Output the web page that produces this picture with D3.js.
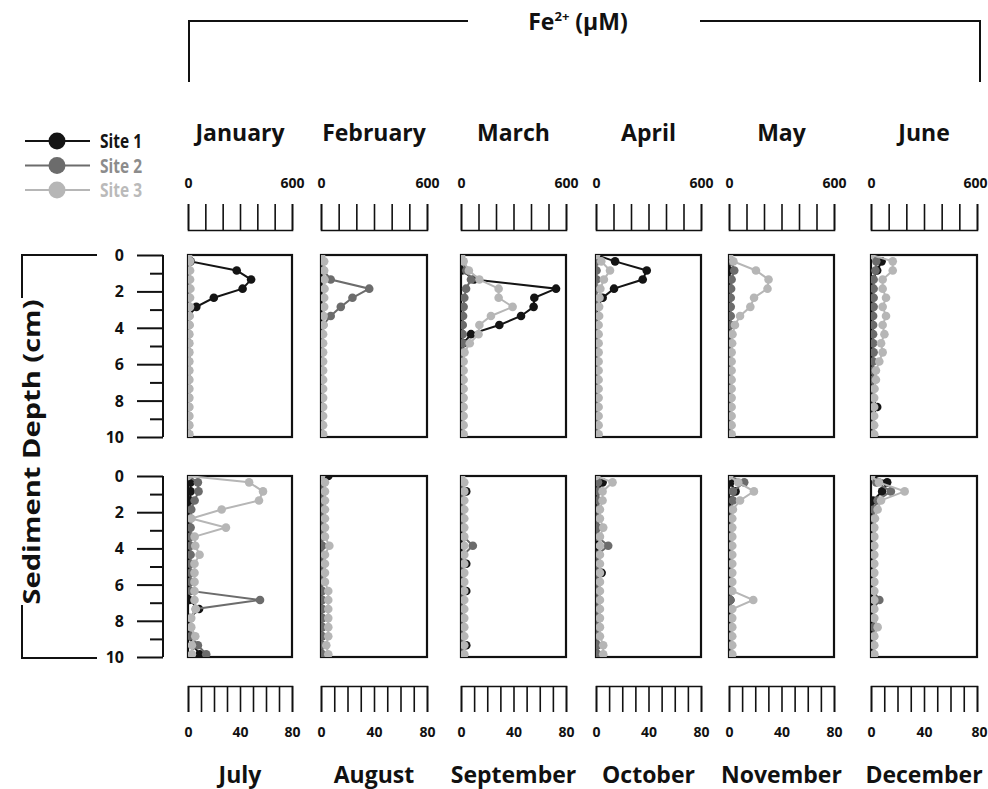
<!DOCTYPE html>
<html>
<head>
<meta charset="utf-8">
<script src="https://cdn.jsdelivr.net/npm/d3@7"></script>
<style>
  body { margin: 0; background: #fff; }
  text { font-family: 'Open Sans', sans-serif; font-weight: 700; }
</style>
</head>
<body>
<svg id="chart" width="988" height="789"></svg>
<script>
// ---- data -------------------------------------------------------------
const topMonths = ["January", "February", "March", "April", "May", "June"];
const bottomMonths = ["July", "August", "September", "October", "November", "December"];
const sites = ["Site 1", "Site 2", "Site 3"];

// sampling depths (cm)
const depths = [0, 0.35, 0.85, 1.35, 1.85, 2.35, 2.85, 3.35, 3.85, 4.35, 4.85,
                5.35, 5.85, 6.35, 6.85, 7.35, 7.85, 8.35, 8.85, 9.35, 9.85];
const depthTicks = [0, 1, 2, 3, 4, 5, 6, 7, 8, 9, 10];
const depthLabels = [0, 2, 4, 6, 8, 10];

const topTicks = [0, 100, 200, 300, 400, 500, 600];
const topLabels = [0, 600];
const bottomTicks = [0, 10, 20, 30, 40, 50, 60, 70, 80];
const bottomLabels = [0, 40, 80];

// Fe2+ (µM), one row per month (Jan..Dec), one value per depth
const site1 = [
  [0, 15, 281, 364, 315, 149, 48, 3, 3, 3, 3, 3, 3, 3, 3, 3, 3, 3, 3, 3, 3],
  [0, 3, 3, 3, 3, 3, 3, 3, 3, 4, 5, 5, 5, 4, 3, 3, 3, 3, 3, 3, 3],
  [0, 5, 5, 75, 543, 419, 415, 343, 219, 57, 15, 5, 5, 5, 5, 5, 5, 5, 5, 5, 5],
  [0, 109, 290, 267, 103, 38, 10, 3, 3, 3, 3, 3, 3, 3, 3, 3, 3, 3, 3, 3, 3],
  [0, 3, 3, 3, 3, 3, 3, 3, 3, 3, 3, 3, 3, 3, 3, 3, 3, 3, 3, 3, 3],
  [0, 60, 35, 10, 8, 6, 6, 6, 6, 6, 6, 6, 6, 6, 6, 6, 6, 35, 6, 6, 6],
  [0, 2, 2, 1.5, 1, 1, 1, 1, 1, 1, 1, 1, 1, 1, 1, 8.5, 1, 1, 1, 4, 9],
  [5.5, 0.5, 0.5, 0.5, 0.5, 0.5, 0.5, 0.5, 0.5, 0.5, 0.5, 0.5, 0.5, 0.5, 0.5, 0.5, 0.5, 0.5, 0.5, 0.5, 0.5],
  [0, 0.5, 4, 0.5, 0.5, 0.5, 0.5, 0.5, 0.5, 0.5, 4, 0.5, 0.5, 4, 0.5, 0.5, 0.5, 0.5, 0.5, 4, 0.5],
  [0, 5, 1, 1, 1, 1, 1, 1, 1, 1, 1, 4.3, 1, 1, 1, 1, 1, 1, 1, 1, 1],
  [0, 1, 5, 1, 1, 1, 1, 1, 1, 1, 1, 1, 1, 1, 1, 1, 1, 1, 1, 1, 1],
  [0, 12.2, 8.4, 1.5, 1, 1, 1, 1, 1, 1, 1, 1, 1, 1, 1, 1, 1, 0.5, 1, 1, 1]
];
const site2 = [
  [0, 4, 4, 4, 4, 4, 4, 4, 4, 4, 4, 4, 4, 4, 4, 4, 4, 4, 4, 4, 4],
  [0, 5, 15, 55, 273, 178, 112, 55, 12, 5, 5, 5, 5, 5, 5, 5, 5, 5, 5, 5, 5],
  [0, 10, 30, 57, 29, 19, 15, 12, 10, 10, 10, 8, 8, 8, 8, 8, 8, 8, 8, 8, 8],
  [0, 3, 3, 3, 3, 3, 3, 3, 3, 3, 3, 3, 3, 3, 3, 3, 3, 3, 3, 3, 3],
  [0, 15, 30, 15, 12, 10, 10, 10, 10, 10, 8, 8, 8, 8, 8, 8, 8, 8, 8, 8, 8],
  [0, 30, 25, 15, 15, 15, 15, 12, 12, 12, 12, 15, 12, 12, 12, 10, 10, 10, 10, 10, 10],
  [0, 7.6, 8.1, 5.1, 2.5, 2, 2, 2, 2, 2, 2, 2, 2, 2, 55.4, 6, 2, 2, 2, 7.6, 14],
  [0, 1, 1, 1, 1, 1, 1, 1, 1, 1, 1, 1, 1, 1, 1, 1, 1, 1, 1, 1, 1],
  [0, 1, 1, 1, 1, 1, 1, 2, 9, 2, 1, 1, 1.5, 1, 1, 1, 1, 1, 1, 1, 1],
  [0, 1.5, 1.5, 1.5, 1.5, 1, 1, 1, 9.3, 1, 1, 1, 1, 1, 1, 1, 1, 1, 1, 1, 1],
  [0, 11.6, 3, 3, 1.5, 1.5, 1.5, 1.5, 1.5, 1.5, 1.5, 1.5, 1.5, 1.5, 1, 1.5, 1.5, 1.5, 1.5, 1.5, 1.5],
  [0, 4, 15, 5, 2, 2, 2, 2, 2, 2, 2, 2, 2, 2, 6.3, 2, 2, 2, 2, 2, 2]
];
const site3 = [
  [0, 12, 12, 12, 14, 12, 12, 10, 10, 8, 8, 8, 8, 8, 8, 8, 8, 8, 8, 8, 8],
  [0, 18, 18, 20, 20, 18, 18, 15, 15, 12, 12, 12, 12, 12, 12, 12, 12, 12, 12, 12, 12],
  [0, 15, 45, 105, 215, 215, 295, 171, 105, 100, 50, 20, 15, 15, 15, 15, 15, 15, 15, 15, 15],
  [0, 30, 80, 45, 25, 20, 18, 18, 15, 15, 15, 15, 15, 15, 15, 15, 15, 15, 15, 15, 15],
  [0, 25, 154, 226, 220, 143, 122, 63, 34, 20, 18, 15, 15, 15, 15, 15, 15, 15, 15, 15, 15],
  [0, 123, 123, 66, 66, 85, 66, 85, 66, 76, 57, 66, 47, 28, 28, 20, 18, 18, 18, 18, 18],
  [0, 47, 57.7, 54.6, 25.9, 2.5, 29.2, 5.1, 5.6, 8.9, 5, 5, 5, 5, 5, 6, 2.5, 2.5, 5.6, 3, 3],
  [0, 3, 3, 3, 3, 3, 3, 3, 6.3, 3, 3, 3, 3, 5.5, 5.5, 5.5, 5.5, 5.5, 5.5, 4, 5.5],
  [0, 2.5, 2.5, 2.5, 2.5, 2.5, 2.5, 2.5, 2.5, 2.5, 2.5, 2.5, 2.5, 2.5, 2.5, 2.5, 2.5, 2.5, 2.5, 2.5, 2.5],
  [0, 12.6, 5, 5, 3, 3, 5.5, 3, 3, 3, 3, 3, 3, 3, 3, 3, 3, 3, 3, 5.5, 5.5],
  [0, 7, 19, 8.4, 3, 2.5, 2.5, 2.5, 2.5, 2.5, 2.5, 2.5, 2.5, 2.5, 18.5, 2.5, 2.5, 2.5, 2.5, 2.5, 2.5],
  [0, 6, 25.4, 7.6, 5, 3, 2.5, 2.5, 2.5, 2.5, 2.5, 2.5, 2.5, 2.5, 2.5, 2.5, 2.5, 5, 2.5, 2.5, 2.5]
];

// ---- layout -----------------------------------------------------------
const W = 988;
const colX = [[188, 292], [321, 427], [461, 566], [596, 701], [729, 834], [871, 977]];
const rowY = [[255, 437], [476, 657]];
const siteColors = ["#141414", "#6c6c6c", "#b6b6b6"];
const siteTextColors = ["#141414", "#8c8c8c", "#bababa"];

const svg = d3.select("#chart");
const series = [site1, site2, site3];

// title bracket
svg.append("path")
  .attr("d", "M189,82V21H468M700,21H980V82")
  .attr("fill", "none").attr("stroke", "#111").attr("stroke-width", 2);
const title = svg.append("text").attr("x", 578).attr("y", 30)
  .attr("text-anchor", "middle").attr("font-size", 23).attr("fill", "#111");
title.append("tspan").text("Fe");
title.append("tspan").attr("font-size", 13).attr("dy", -9).text("2+");
title.append("tspan").attr("dy", 9).text(" (μM)");

// depth axis label + brackets
svg.append("path")
  .attr("d", "M97,255H22V298M22,605V658H97")
  .attr("fill", "none").attr("stroke", "#111").attr("stroke-width", 2);
svg.append("text")
  .attr("transform", "translate(40,452) rotate(-90)")
  .attr("text-anchor", "middle").attr("font-size", 23).attr("fill", "#111")
  .attr("textLength", 305).attr("lengthAdjust", "spacingAndGlyphs")
  .text("Sediment Depth (cm)");

// legend
sites.forEach((s, i) => {
  const y = 141 + i * 24.5;
  const g = svg.append("g");
  g.append("line").attr("x1", 25).attr("x2", 90).attr("y1", y).attr("y2", y)
    .attr("stroke", siteColors[i]).attr("stroke-width", 2);
  g.append("circle").attr("cx", 57).attr("cy", y).attr("r", 8.5).attr("fill", siteColors[i]);
  g.append("text").attr("x", 100).attr("y", y + 7).attr("font-size", 19)
    .attr("textLength", 42).attr("lengthAdjust", "spacingAndGlyphs")
    .attr("fill", siteTextColors[i]).text(s);
});

function drawRow(row) {
  const [y0, y1] = rowY[row];
  const y = d3.scaleLinear().domain([0, 10]).range([y0, y1]);
  const isTop = row === 0;
  const months = isTop ? topMonths : bottomMonths;
  const xMax = isTop ? 600 : 80;

  // depth axis on the left
  const ya = svg.append("g").attr("transform", "translate(163,0)")
    .call(d3.axisLeft(y).tickValues(depthTicks).tickFormat("").tickSize(0));
  ya.select(".domain").attr("stroke", "#111").attr("stroke-width", 2).attr("d", `M0,${y0}V${y1}`);
  ya.selectAll(".tick line")
    .attr("x2", d => depthLabels.includes(d) ? -26 : -13)
    .attr("stroke", "#111").attr("stroke-width", 2);
  depthLabels.forEach(d => {
    svg.append("text").attr("x", 124).attr("y", y(d) + 6).attr("text-anchor", "end")
      .attr("font-size", 16).attr("fill", "#111").text(d);
  });

  months.forEach((m, c) => {
    const [x0, x1] = colX[c];
    const mi = row * 6 + c;
    const x = d3.scaleLinear().domain([0, xMax]).range([x0, x1]);

    // comb-style concentration axis
    const axisY = isTop ? 230 : 686;
    const axis = isTop ? d3.axisTop(x).tickValues(topTicks)
                       : d3.axisBottom(x).tickValues(bottomTicks);
    const labels = isTop ? topLabels : bottomLabels;
    const ag = svg.append("g").attr("transform", `translate(0,${axisY})`)
      .call(axis.tickSize(26).tickPadding(isTop ? 16 : 15)
        .tickFormat(d => labels.includes(d) ? d : ""));
    ag.selectAll("line, path").attr("stroke", "#111").attr("stroke-width", 1.6);
    ag.selectAll("text").attr("font-size", 14).attr("fill", "#111")
      .style("font-family", "'Open Sans', sans-serif").style("font-weight", 700);
    // keep the right-most label inside the page
    ag.selectAll(".tick").each(function (d) {
      const t = d3.select(this).select("text");
      const tx = x(d);
      if (tx + 13 > W) t.attr("text-anchor", "end").attr("x", W - 1 - tx);
    });

    // month label
    svg.append("text").attr("x", (x0 + x1) / 2).attr("y", isTop ? 141 : 783)
      .attr("text-anchor", "middle").attr("font-size", 23).attr("fill", "#111").text(m);

    // frame
    svg.append("rect").attr("x", x0).attr("y", y0).attr("width", x1 - x0).attr("height", y1 - y0)
      .attr("fill", "none").attr("stroke", "#111").attr("stroke-width", 2.2);

    // clipped profiles
    const id = "clip" + mi;
    svg.append("clipPath").attr("id", id).append("rect")
      .attr("x", x0).attr("y", y0).attr("width", x1 - x0).attr("height", y1 - y0);
    const pg = svg.append("g").attr("clip-path", `url(#${id})`);
    const line = d3.line().x(d => x(d[1])).y(d => y(d[0]));
    series.forEach((s, si) => {
      const pts = depths.map((d, k) => [d, s[mi][k]]).filter(p => p[1] != null);
      pg.append("path").datum(pts).attr("d", line).attr("fill", "none")
        .attr("stroke", siteColors[si]).attr("stroke-width", 2);
      pg.selectAll(null).data(pts).join("circle")
        .attr("cx", d => x(d[1])).attr("cy", d => y(d[0])).attr("r", 4.3)
        .attr("fill", siteColors[si]);
    });
  });
}

drawRow(0);
drawRow(1);
</script>
</body>
</html>
